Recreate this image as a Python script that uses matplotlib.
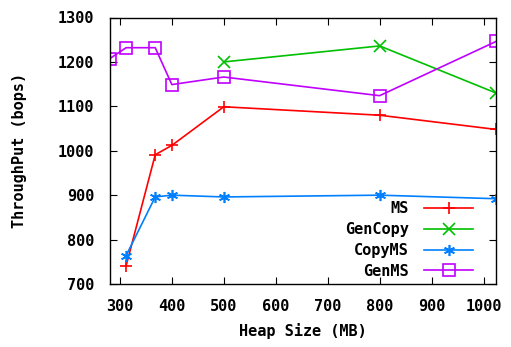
import matplotlib
matplotlib.use("Agg")
import matplotlib.pyplot as plt

heap = [280, 312, 368, 400, 500, 800, 1024]
ms_x = [312, 368, 400, 500, 800, 1024]
ms_y = [741, 991, 1012, 1099, 1080, 1048]
gencopy_x = [500, 800, 1024]
gencopy_y = [1200, 1236, 1130]
copyms_x = [312, 368, 400, 500, 800, 1024]
copyms_y = [764, 896, 900, 896, 900, 892]
genms_x = [280, 312, 368, 400, 500, 800, 1024]
genms_y = [1207, 1232, 1232, 1149, 1166, 1124, 1246]

xticks = [300, 400, 500, 600, 700, 800, 900, 1000]
yticks = [700, 800, 900, 1000, 1100, 1200, 1300]

plt.rcParams["font.family"] = "DejaVu Sans Mono"
plt.rcParams["font.weight"] = "bold"

fig = plt.figure(figsize=(5.11, 3.47), dpi=100)
ax = fig.add_axes([109.5/511, 1 - 284/347, (496-109.5)/511, (284-17.5)/347])

ax.plot(ms_x, ms_y, color="#ff0000", marker="+", ms=8, mew=1.2, lw=1.2, label="MS")
ax.plot(gencopy_x, gencopy_y, color="#00c000", marker="x", ms=8, mew=1.2, lw=1.2, label="GenCopy")
ax.plot(copyms_x, copyms_y, color="#0080ff", marker=(6, 2, 0), ms=8, mew=1.2, lw=1.2, label="CopyMS")
ax.plot(genms_x, genms_y, color="#c000ff", marker="s", ms=8, mew=1.2, mfc="none", lw=1.2, label="GenMS")

ax.set_xlim(280, 1024)
ax.set_ylim(700, 1300)
ax.set_xticks(xticks)
ax.set_yticks(yticks)
ax.tick_params(direction="in", top=True, right=True, length=5, labelsize=11)
ax.tick_params(axis="y", pad=11)
ax.tick_params(axis="x", pad=11)
for lab in ax.get_xticklabels() + ax.get_yticklabels():
    lab.set_fontweight("bold")
ax.set_xlabel("Heap Size (MB)", fontsize=11, fontweight="bold", labelpad=6)
ax.set_ylabel("ThroughPut (bops)", fontsize=11, fontweight="bold", labelpad=22)
for s in ax.spines.values():
    s.set_linewidth(1.0)

leg = ax.legend(loc="lower right", bbox_to_anchor=(0.957, -0.003), markerfirst=False,
                frameon=False, fontsize=11, handlelength=3.2, labelspacing=0.38,
                borderaxespad=0.0, handletextpad=1.0)
for t in leg.get_texts():
    t.set_fontweight("bold")
    t.set_ha("right")

fig.savefig("out.png", dpi=100)
